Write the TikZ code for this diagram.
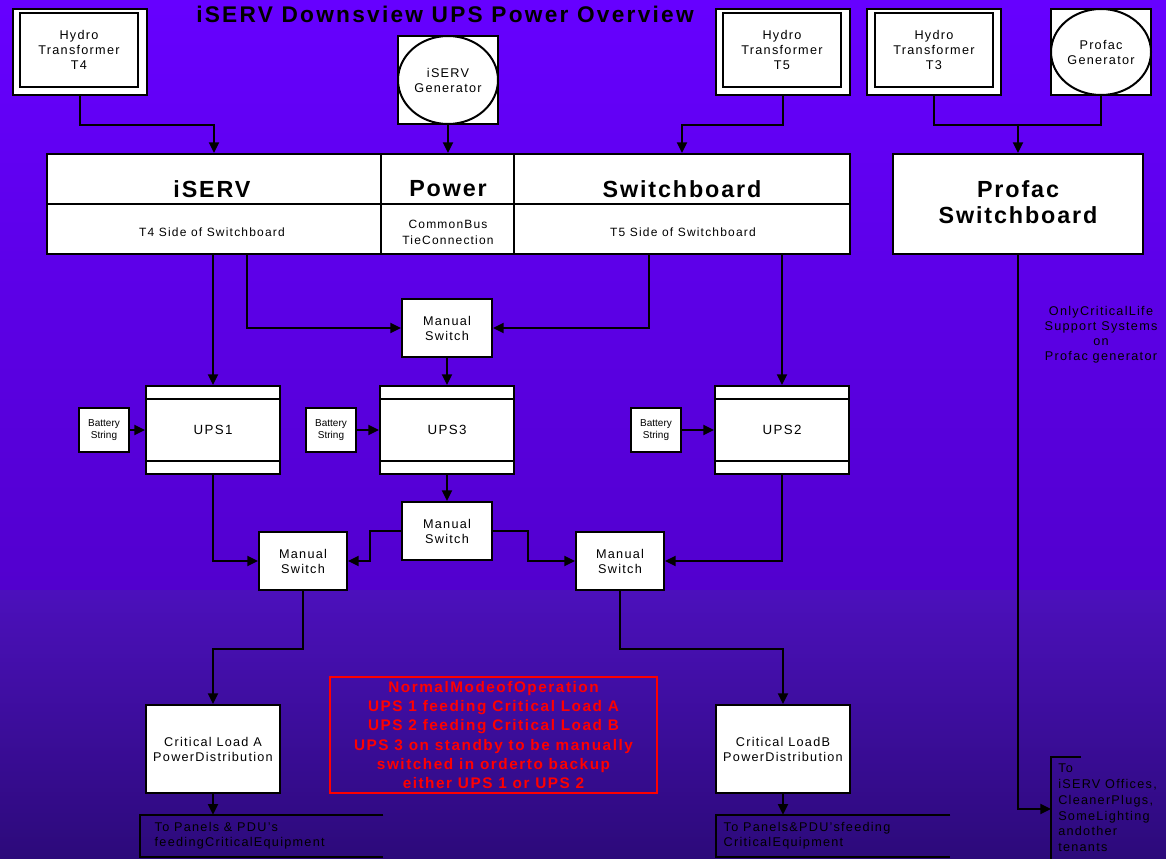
\documentclass[tikz,border=0pt]{standalone}
\usepackage{fontspec}
\setmainfont{Liberation Sans}[LetterSpace=10]
\newfontfamily\plainfont{Liberation Sans}
\newfontfamily\bigfont{Liberation Sans}[LetterSpace=8]
\usetikzlibrary{arrows.meta,shapes.geometric,calc}
\definecolor{bgtop}{RGB}{102,0,255}
\definecolor{bgmid}{RGB}{82,0,206}
\definecolor{bgmidb}{RGB}{76,16,188}
\definecolor{bgbot}{RGB}{44,10,122}
\definecolor{redtxt}{RGB}{255,0,0}
\begin{document}
\begin{tikzpicture}[x=0.75pt,y=-0.75pt,
  wh/.style 2 args={minimum width=#1*0.75pt,minimum height=#2*0.75pt},
  box/.style={draw,fill=white,line width=1.5pt,inner sep=0pt,align=center},
  ln/.style={line width=1.5pt},
  arr/.style={line width=1.5pt,-{Triangle[length=8pt,width=7.5pt]}},
  txt/.style={font=\fontsize{9.5}{11.25}\selectfont,align=center},
  big/.style={font=\bigfont\fontsize{17.5}{19.5}\selectfont\bfseries,align=center},
  sub/.style={font=\fontsize{9}{12}\selectfont,align=center},
  bat/.style={font=\plainfont\fontsize{7.5}{8.5}\selectfont,align=center},
  ]
\useasboundingbox (0,0) rectangle (1166,859);
% background
\shade[top color=bgtop,bottom color=bgmid] (0,0) rectangle (1166,590);
\shade[top color=bgmidb,bottom color=bgbot] (0,590) rectangle (1166,859);

% title
\node[font=\fontsize{17}{20}\selectfont\bfseries] (title) at (445,14) {iSERV Downsview UPS Power Overview};

% sources
\node[box,wh={134}{86}] (T4o) at (80,52) {};
\node[box,wh={118}{74},txt] (T4) at (79,50) {Hydro\\Transformer\\T4};
\node[box,wh={100}{88}] (Gsq) at (448,80) {};
\node[draw,fill=white,line width=1.5pt,ellipse,inner sep=0pt,wh={100}{88},txt] (G) at (448,80) {iSERV\\Generator};
\node[box,wh={134}{86}] (T5o) at (783,52) {};
\node[box,wh={118}{74},txt] (T5) at (782,50) {Hydro\\Transformer\\T5};
\node[box,wh={134}{86}] (T3o) at (934,52) {};
\node[box,wh={118}{74},txt] (T3) at (934,50) {Hydro\\Transformer\\T3};
\node[box,wh={100}{86}] (PGsq) at (1101,52) {};
\node[draw,fill=white,line width=1.5pt,ellipse,inner sep=0pt,wh={100}{86},txt] (PG) at (1101,52) {Profac\\Generator};

% switchboards
\node[box,wh={334}{100}] (SBa) at (214,204) {};
\node[box,wh={134}{100}] (SBb) at (448,204) {};
\node[box,wh={336}{100}] (SBc) at (682,204) {};
\draw[ln] (SBa.west) -- (SBc.east);
\node[big] (SBat) at (212,189) {iSERV};
\node[big] (SBbt) at (448,189) {Power};
\node[big] (SBct) at (682,189) {Switchboard};
\node[sub] (SBas) at (212,232) {T4 Side of Switchboard};
\node[sub] (SBbs) at (448,232) {CommonBus\\TieConnection};
\node[sub] (SBcs) at (683,232) {T5 Side of Switchboard};
\node[box,wh={250}{100}] (PSB) at (1018,204) {};
\node[big] (PSBt) at (1018,202) {Profac\\Switchboard};

% source connectors
\draw[arr] (T4o.south) -- ++(0,29) -| (SBa.north);
\draw[arr] (Gsq.south) -- (SBb.north);
\draw[arr] (T5o.south) -- ++(0,29) -| (SBc.north);
\draw[ln] (T3o.south) -- ++(0,29) -| (PGsq.south);
\coordinate (j3) at (PSB.north |- 0,124);
\draw[arr] (j3) -- (PSB.north);

% manual switch top
\node[box,wh={90}{58},txt] (MS0) at (447,328) {Manual\\Switch};

% UPS
\foreach \n/\x in {UPS1/213,UPS3/447,UPS2/782}{
  \node[box,wh={134}{88},txt,font=\fontsize{10}{12}\selectfont] (\n) at (\x,430) {\n};
  \draw[ln] ($(\n.north west)+(0,14)$) -- ($(\n.north east)+(0,14)$);
  \draw[ln] ($(\n.south west)+(0,-14)$) -- ($(\n.south east)+(0,-14)$);
}
\node[box,wh={50}{44},bat] (B1) at (104,430) {Battery\\String};
\node[box,wh={50}{44},bat] (B3) at (331,430) {Battery\\String};
\node[box,wh={50}{44},bat] (B2) at (656,430) {Battery\\String};
\draw[arr] (B1.east) -- (UPS1.west);
\draw[arr] (B3.east) -- (UPS3.west);
\draw[arr] (B2.east) -- (UPS2.west);

\draw[arr] (SBa.south -| UPS1.north) -- (UPS1.north);
\draw[arr] ($(SBa.south)+(33,0)$) |- (MS0.west);
\draw[arr] ($(SBc.south)+(-33,0)$) |- (MS0.east);
\draw[arr] (SBc.south -| UPS2.north) -- (UPS2.north);
\draw[arr] (MS0.south) -- (UPS3.north);

% lower manual switches
\node[box,wh={88}{58},txt] (MSL) at (303,561) {Manual\\Switch};
\node[box,wh={90}{58},txt] (MSM) at (447,531) {Manual\\Switch};
\node[box,wh={88}{58},txt] (MSR) at (620,561) {Manual\\Switch};
\draw[arr] (UPS1.south) |- (MSL.west);
\draw[arr] (UPS3.south) -- (MSM.north);
\draw[arr] (MSM.west) -- ++(-31,0) |- (MSL.east);
\draw[arr] (MSM.east) -- ++(35,0) |- (MSR.west);
\draw[arr] (UPS2.south) |- (MSR.east);

% critical loads
\node[box,wh={134}{88},txt] (CLA) at (213,749) {Critical Load A\\PowerDistribution};
\node[box,wh={134}{88},txt] (CLB) at (783,749) {Critical LoadB\\PowerDistribution};
\draw[arr] (MSL.south) -- ++(0,58) -| (CLA.north);
\draw[arr] (MSR.south) -- ++(0,58) -| (CLB.north);

% outputs
\node[wh={243}{42},inner sep=0pt] (PA) at (261.5,836) {};
\draw[ln] (PA.north east) -- (PA.north west) -- (PA.south west) -- (PA.south east);
\node[txt,align=left,anchor=west] (PAt) at (150,835.5) {To Panels \& PDU's\\feedingCriticalEquipment};
\draw[arr] (CLA.south) -- (CLA.south |- PA.north);
\node[wh={234}{42},inner sep=0pt] (PB) at (833,836) {};
\draw[ln] (PB.north east) -- (PB.north west) -- (PB.south west) -- (PB.south east);
\node[txt,align=left,anchor=west] (PBt) at (719,835.5) {To Panels\&PDU'sfeeding\\CriticalEquipment};
\draw[arr] (CLB.south) -- (CLB.south |- PB.north);

% profac output
\coordinate (PTtop) at (1051,757);
\coordinate (PTin) at (1051,809);
\draw[ln] ($(PTtop)+(30,0)$) -- (PTtop) -- (1051,862);
\draw[arr] (PSB.south) |- (PTin);
\node[anchor=north west,align=left,font=\fontsize{9.5}{11.8}\selectfont,inner sep=0pt] (PTt) at (1058,764) {To\\iSERV Offices,\\CleanerPlugs,\\SomeLighting\\andother\\tenants};

\node[txt] (note) at (1101,334.5) {OnlyCriticalLife\\Support Systems\\on\\Profac generator};

% red note
\node[draw=redtxt,line width=1.5pt,wh={327}{116},text=redtxt,align=center,font=\fontsize{11.5}{14.4}\selectfont\bfseries] (red) at (493.5,735) {NormalModeofOperation\\UPS 1 feeding Critical Load A\\UPS 2 feeding Critical Load B\\UPS 3 on standby to be manually\\switched in orderto backup\\either UPS 1 or UPS 2};
\end{tikzpicture}
\end{document}
